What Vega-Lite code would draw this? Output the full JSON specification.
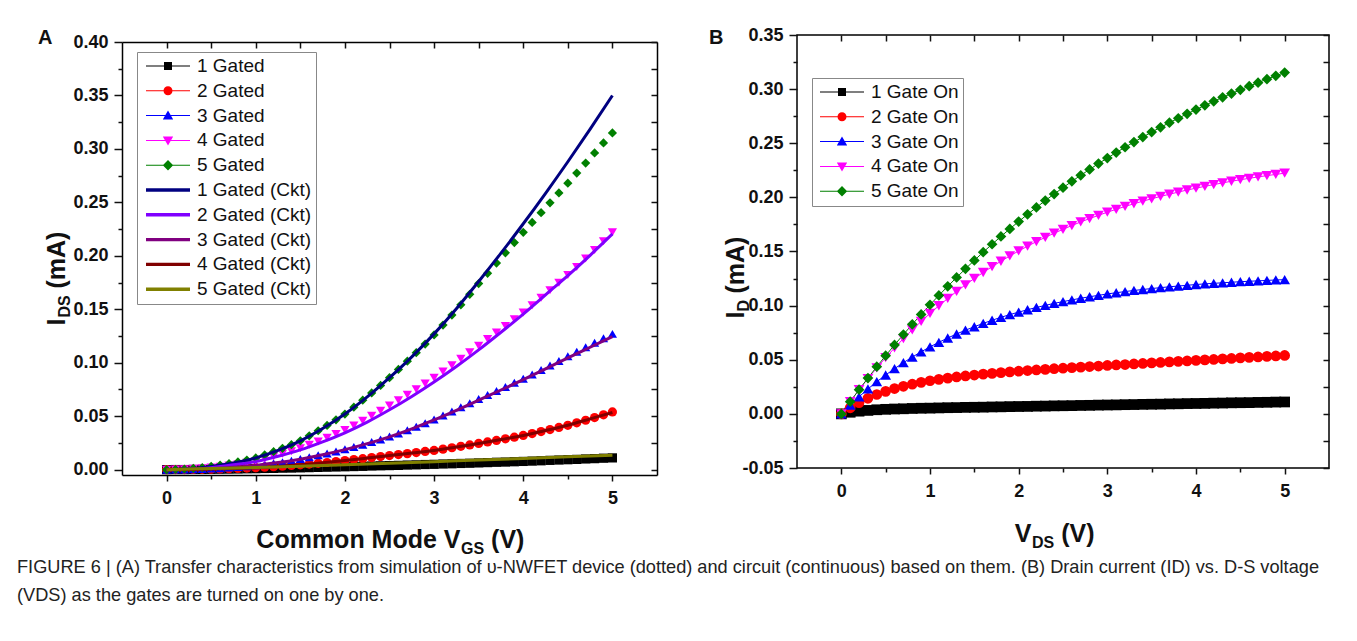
{
"$schema": "https://vega.github.io/schema/vega-lite/v6.json",
"padding": {"left": 17, "top": 25, "right": 0, "bottom": 0},
"background": "white",
"config": {
  "font": "Liberation Sans",
  "view": {"stroke": "#000", "strokeWidth": 1.5},
  "axis": {"domain": false, "grid": false, "labelFont": "Liberation Sans", "labelFontWeight": "bold", "labelFontSize": 18, "labelColor": "#111", "tickColor": "#111", "tickWidth": 1.5, "domainColor": "#000", "domainWidth": 1.5, "labelFlush": false, "labelOverlap": false, "labelBound": false, "titleFont": "Liberation Sans", "titleFontWeight": "bold", "titleFontSize": 25, "titleColor": "#111", "titleBaseline": "alphabetic", "titlePadding": 0},
  "legend": {"title": null, "symbolSize": 400, "symbolStrokeWidth": 0, "symbolOpacity": 1, "labelFont": "Liberation Sans", "labelFontSize": 19, "labelColor": "#111", "labelLimit": 400, "rowPadding": 4.8, "padding": 4, "strokeColor": "#888", "fillColor": "#fff"}
},
"title": {"text": ["FIGURE 6 | (A) Transfer characteristics from simulation of υ-NWFET device (dotted) and circuit (continuous) based on them. (B) Drain current (ID) vs. D-S voltage", "(VDS) as the gates are turned on one by one."], "orient": "bottom", "anchor": "start", "frame": "bounds", "baseline": "top", "offset": 3, "dx": -21, "font": "Liberation Sans", "fontSize": 18.2, "fontWeight": "normal", "color": "#222", "lineHeight": 28},
"spacing": 50,
"datasets": {
"apts": [
{"s":"1 Gated","v":0,"i":0},{"s":"1 Gated","v":0.1,"i":0.0001},{"s":"1 Gated","v":0.2,"i":0.0001},{"s":"1 Gated","v":0.3,"i":0.0002},{"s":"1 Gated","v":0.4,"i":0.0002},{"s":"1 Gated","v":0.5,"i":0.0003},{"s":"1 Gated","v":0.6,"i":0.0004},{"s":"1 Gated","v":0.7,"i":0.0005},{"s":"1 Gated","v":0.8,"i":0.0006},{"s":"1 Gated","v":0.9,"i":0.0008},{"s":"1 Gated","v":1,"i":0.0009},
{"s":"1 Gated","v":1.1,"i":0.0011},{"s":"1 Gated","v":1.2,"i":0.0012},{"s":"1 Gated","v":1.3,"i":0.0014},{"s":"1 Gated","v":1.4,"i":0.0015},{"s":"1 Gated","v":1.5,"i":0.0017},{"s":"1 Gated","v":1.6,"i":0.0019},{"s":"1 Gated","v":1.7,"i":0.0021},{"s":"1 Gated","v":1.8,"i":0.0023},{"s":"1 Gated","v":1.9,"i":0.0025},{"s":"1 Gated","v":2,"i":0.0027},
{"s":"1 Gated","v":2.1,"i":0.0029},{"s":"1 Gated","v":2.2,"i":0.0031},{"s":"1 Gated","v":2.3,"i":0.0034},{"s":"1 Gated","v":2.4,"i":0.0036},{"s":"1 Gated","v":2.5,"i":0.0038},{"s":"1 Gated","v":2.6,"i":0.004},{"s":"1 Gated","v":2.7,"i":0.0043},{"s":"1 Gated","v":2.8,"i":0.0045},{"s":"1 Gated","v":2.9,"i":0.0048},{"s":"1 Gated","v":3,"i":0.005},
{"s":"1 Gated","v":3.1,"i":0.0053},{"s":"1 Gated","v":3.2,"i":0.0055},{"s":"1 Gated","v":3.3,"i":0.0058},{"s":"1 Gated","v":3.4,"i":0.006},{"s":"1 Gated","v":3.5,"i":0.0063},{"s":"1 Gated","v":3.6,"i":0.0066},{"s":"1 Gated","v":3.7,"i":0.0069},{"s":"1 Gated","v":3.8,"i":0.0071},{"s":"1 Gated","v":3.9,"i":0.0074},{"s":"1 Gated","v":4,"i":0.0077},
{"s":"1 Gated","v":4.1,"i":0.008},{"s":"1 Gated","v":4.2,"i":0.0083},{"s":"1 Gated","v":4.3,"i":0.0087},{"s":"1 Gated","v":4.4,"i":0.009},{"s":"1 Gated","v":4.5,"i":0.0093},{"s":"1 Gated","v":4.6,"i":0.0096},{"s":"1 Gated","v":4.7,"i":0.01},{"s":"1 Gated","v":4.8,"i":0.0103},{"s":"1 Gated","v":4.9,"i":0.0107},{"s":"1 Gated","v":5,"i":0.011},
{"s":"2 Gated","v":0,"i":0},{"s":"2 Gated","v":0.1,"i":0.0001},{"s":"2 Gated","v":0.2,"i":0.0001},{"s":"2 Gated","v":0.3,"i":0.0002},{"s":"2 Gated","v":0.4,"i":0.0003},{"s":"2 Gated","v":0.5,"i":0.0005},{"s":"2 Gated","v":0.6,"i":0.0007},{"s":"2 Gated","v":0.7,"i":0.0009},{"s":"2 Gated","v":0.8,"i":0.0012},{"s":"2 Gated","v":0.9,"i":0.0015},{"s":"2 Gated","v":1,"i":0.0018},
{"s":"2 Gated","v":1.1,"i":0.0023},{"s":"2 Gated","v":1.2,"i":0.0028},{"s":"2 Gated","v":1.3,"i":0.0033},{"s":"2 Gated","v":1.4,"i":0.0039},{"s":"2 Gated","v":1.5,"i":0.0045},{"s":"2 Gated","v":1.6,"i":0.0052},{"s":"2 Gated","v":1.7,"i":0.0059},{"s":"2 Gated","v":1.8,"i":0.0067},{"s":"2 Gated","v":1.9,"i":0.0076},{"s":"2 Gated","v":2,"i":0.0085},
{"s":"2 Gated","v":2.1,"i":0.0094},{"s":"2 Gated","v":2.2,"i":0.0103},{"s":"2 Gated","v":2.3,"i":0.0113},{"s":"2 Gated","v":2.4,"i":0.0122},{"s":"2 Gated","v":2.5,"i":0.0132},{"s":"2 Gated","v":2.6,"i":0.0141},{"s":"2 Gated","v":2.7,"i":0.015},{"s":"2 Gated","v":2.8,"i":0.016},{"s":"2 Gated","v":2.9,"i":0.017},{"s":"2 Gated","v":3,"i":0.018},
{"s":"2 Gated","v":3.1,"i":0.0192},{"s":"2 Gated","v":3.2,"i":0.0205},{"s":"2 Gated","v":3.3,"i":0.0218},{"s":"2 Gated","v":3.4,"i":0.0231},{"s":"2 Gated","v":3.5,"i":0.0245},{"s":"2 Gated","v":3.6,"i":0.0259},{"s":"2 Gated","v":3.7,"i":0.0273},{"s":"2 Gated","v":3.8,"i":0.0288},{"s":"2 Gated","v":3.9,"i":0.0304},{"s":"2 Gated","v":4,"i":0.032},
{"s":"2 Gated","v":4.1,"i":0.0338},{"s":"2 Gated","v":4.2,"i":0.0356},{"s":"2 Gated","v":4.3,"i":0.0375},{"s":"2 Gated","v":4.4,"i":0.0395},{"s":"2 Gated","v":4.5,"i":0.0415},{"s":"2 Gated","v":4.6,"i":0.0438},{"s":"2 Gated","v":4.7,"i":0.0462},{"s":"2 Gated","v":4.8,"i":0.0487},{"s":"2 Gated","v":4.9,"i":0.0513},{"s":"2 Gated","v":5,"i":0.054},
{"s":"3 Gated","v":0,"i":0},{"s":"3 Gated","v":0.1,"i":0.0001},{"s":"3 Gated","v":0.2,"i":0.0002},{"s":"3 Gated","v":0.3,"i":0.0004},{"s":"3 Gated","v":0.4,"i":0.0007},{"s":"3 Gated","v":0.5,"i":0.001},{"s":"3 Gated","v":0.6,"i":0.0014},{"s":"3 Gated","v":0.7,"i":0.0019},{"s":"3 Gated","v":0.8,"i":0.0025},{"s":"3 Gated","v":0.9,"i":0.0032},{"s":"3 Gated","v":1,"i":0.004},
{"s":"3 Gated","v":1.1,"i":0.0049},{"s":"3 Gated","v":1.2,"i":0.0059},{"s":"3 Gated","v":1.3,"i":0.007},{"s":"3 Gated","v":1.4,"i":0.0084},{"s":"3 Gated","v":1.5,"i":0.01},{"s":"3 Gated","v":1.6,"i":0.0117},{"s":"3 Gated","v":1.7,"i":0.0134},{"s":"3 Gated","v":1.8,"i":0.0151},{"s":"3 Gated","v":1.9,"i":0.017},{"s":"3 Gated","v":2,"i":0.019},
{"s":"3 Gated","v":2.1,"i":0.0212},{"s":"3 Gated","v":2.2,"i":0.0234},{"s":"3 Gated","v":2.3,"i":0.0258},{"s":"3 Gated","v":2.4,"i":0.0283},{"s":"3 Gated","v":2.5,"i":0.031},{"s":"3 Gated","v":2.6,"i":0.0339},{"s":"3 Gated","v":2.7,"i":0.0369},{"s":"3 Gated","v":2.8,"i":0.0401},{"s":"3 Gated","v":2.9,"i":0.0435},{"s":"3 Gated","v":3,"i":0.047},
{"s":"3 Gated","v":3.1,"i":0.0507},{"s":"3 Gated","v":3.2,"i":0.0545},{"s":"3 Gated","v":3.3,"i":0.0583},{"s":"3 Gated","v":3.4,"i":0.0621},{"s":"3 Gated","v":3.5,"i":0.066},{"s":"3 Gated","v":3.6,"i":0.0698},{"s":"3 Gated","v":3.7,"i":0.0736},{"s":"3 Gated","v":3.8,"i":0.0774},{"s":"3 Gated","v":3.9,"i":0.0812},{"s":"3 Gated","v":4,"i":0.085},
{"s":"3 Gated","v":4.1,"i":0.0891},{"s":"3 Gated","v":4.2,"i":0.0932},{"s":"3 Gated","v":4.3,"i":0.0974},{"s":"3 Gated","v":4.4,"i":0.1017},{"s":"3 Gated","v":4.5,"i":0.106},{"s":"3 Gated","v":4.6,"i":0.1102},{"s":"3 Gated","v":4.7,"i":0.1144},{"s":"3 Gated","v":4.8,"i":0.1186},{"s":"3 Gated","v":4.9,"i":0.1228},{"s":"3 Gated","v":5,"i":0.127},
{"s":"4 Gated","v":0,"i":0},{"s":"4 Gated","v":0.1,"i":0.0001},{"s":"4 Gated","v":0.2,"i":0.0004},{"s":"4 Gated","v":0.3,"i":0.0008},{"s":"4 Gated","v":0.4,"i":0.0014},{"s":"4 Gated","v":0.5,"i":0.002},{"s":"4 Gated","v":0.6,"i":0.0028},{"s":"4 Gated","v":0.7,"i":0.0038},{"s":"4 Gated","v":0.8,"i":0.005},{"s":"4 Gated","v":0.9,"i":0.0064},{"s":"4 Gated","v":1,"i":0.008},
{"s":"4 Gated","v":1.1,"i":0.0102},{"s":"4 Gated","v":1.2,"i":0.0124},{"s":"4 Gated","v":1.3,"i":0.0148},{"s":"4 Gated","v":1.4,"i":0.0173},{"s":"4 Gated","v":1.5,"i":0.02},{"s":"4 Gated","v":1.6,"i":0.0232},{"s":"4 Gated","v":1.7,"i":0.0264},{"s":"4 Gated","v":1.8,"i":0.0298},{"s":"4 Gated","v":1.9,"i":0.0333},{"s":"4 Gated","v":2,"i":0.037},
{"s":"4 Gated","v":2.1,"i":0.0414},{"s":"4 Gated","v":2.2,"i":0.0458},{"s":"4 Gated","v":2.3,"i":0.0504},{"s":"4 Gated","v":2.4,"i":0.0551},{"s":"4 Gated","v":2.5,"i":0.06},{"s":"4 Gated","v":2.6,"i":0.065},{"s":"4 Gated","v":2.7,"i":0.0701},{"s":"4 Gated","v":2.8,"i":0.0753},{"s":"4 Gated","v":2.9,"i":0.0806},{"s":"4 Gated","v":3,"i":0.086},
{"s":"4 Gated","v":3.1,"i":0.0918},{"s":"4 Gated","v":3.2,"i":0.0977},{"s":"4 Gated","v":3.3,"i":0.1037},{"s":"4 Gated","v":3.4,"i":0.1098},{"s":"4 Gated","v":3.5,"i":0.116},{"s":"4 Gated","v":3.6,"i":0.1221},{"s":"4 Gated","v":3.7,"i":0.1282},{"s":"4 Gated","v":3.8,"i":0.1344},{"s":"4 Gated","v":3.9,"i":0.1407},{"s":"4 Gated","v":4,"i":0.147},
{"s":"4 Gated","v":4.1,"i":0.1538},{"s":"4 Gated","v":4.2,"i":0.1607},{"s":"4 Gated","v":4.3,"i":0.1677},{"s":"4 Gated","v":4.4,"i":0.1748},{"s":"4 Gated","v":4.5,"i":0.182},{"s":"4 Gated","v":4.6,"i":0.1896},{"s":"4 Gated","v":4.7,"i":0.1974},{"s":"4 Gated","v":4.8,"i":0.2054},{"s":"4 Gated","v":4.9,"i":0.2136},{"s":"4 Gated","v":5,"i":0.222},
{"s":"5 Gated","v":0,"i":0},{"s":"5 Gated","v":0.1,"i":0.0002},{"s":"5 Gated","v":0.2,"i":0.0006},{"s":"5 Gated","v":0.3,"i":0.0012},{"s":"5 Gated","v":0.4,"i":0.002},{"s":"5 Gated","v":0.5,"i":0.003},{"s":"5 Gated","v":0.6,"i":0.0042},{"s":"5 Gated","v":0.7,"i":0.0056},{"s":"5 Gated","v":0.8,"i":0.0072},{"s":"5 Gated","v":0.9,"i":0.009},{"s":"5 Gated","v":1,"i":0.011},
{"s":"5 Gated","v":1.1,"i":0.0138},{"s":"5 Gated","v":1.2,"i":0.0168},{"s":"5 Gated","v":1.3,"i":0.02},{"s":"5 Gated","v":1.4,"i":0.0234},{"s":"5 Gated","v":1.5,"i":0.027},{"s":"5 Gated","v":1.6,"i":0.0316},{"s":"5 Gated","v":1.7,"i":0.0364},{"s":"5 Gated","v":1.8,"i":0.0414},{"s":"5 Gated","v":1.9,"i":0.0466},{"s":"5 Gated","v":2,"i":0.052},
{"s":"5 Gated","v":2.1,"i":0.0584},{"s":"5 Gated","v":2.2,"i":0.065},{"s":"5 Gated","v":2.3,"i":0.0718},{"s":"5 Gated","v":2.4,"i":0.0788},{"s":"5 Gated","v":2.5,"i":0.086},{"s":"5 Gated","v":2.6,"i":0.0937},{"s":"5 Gated","v":2.7,"i":0.1015},{"s":"5 Gated","v":2.8,"i":0.1094},{"s":"5 Gated","v":2.9,"i":0.1175},{"s":"5 Gated","v":3,"i":0.126},
{"s":"5 Gated","v":3.1,"i":0.1352},{"s":"5 Gated","v":3.2,"i":0.1446},{"s":"5 Gated","v":3.3,"i":0.1542},{"s":"5 Gated","v":3.4,"i":0.164},{"s":"5 Gated","v":3.5,"i":0.174},{"s":"5 Gated","v":3.6,"i":0.1836},{"s":"5 Gated","v":3.7,"i":0.1932},{"s":"5 Gated","v":3.8,"i":0.2028},{"s":"5 Gated","v":3.9,"i":0.2124},{"s":"5 Gated","v":4,"i":0.222},
{"s":"5 Gated","v":4.1,"i":0.2312},{"s":"5 Gated","v":4.2,"i":0.2404},{"s":"5 Gated","v":4.3,"i":0.2496},{"s":"5 Gated","v":4.4,"i":0.2588},{"s":"5 Gated","v":4.5,"i":0.268},{"s":"5 Gated","v":4.6,"i":0.2774},{"s":"5 Gated","v":4.7,"i":0.2868},{"s":"5 Gated","v":4.8,"i":0.2962},{"s":"5 Gated","v":4.9,"i":0.3056},{"s":"5 Gated","v":5,"i":0.315}
],
"ackt": [
{"s":"1 Gated (Ckt)","v":0,"i":0},{"s":"1 Gated (Ckt)","v":0.25,"i":0.0008},{"s":"1 Gated (Ckt)","v":0.5,"i":0.003},{"s":"1 Gated (Ckt)","v":0.75,"i":0.0063},{"s":"1 Gated (Ckt)","v":1,"i":0.011},{"s":"1 Gated (Ckt)","v":1.25,"i":0.018},{"s":"1 Gated (Ckt)","v":1.5,"i":0.027},{"s":"1 Gated (Ckt)","v":1.75,"i":0.0385},{"s":"1 Gated (Ckt)","v":2,"i":0.052},{"s":"1 Gated (Ckt)","v":2.25,"i":0.068},{"s":"1 Gated (Ckt)","v":2.5,"i":0.086},{"s":"1 Gated (Ckt)","v":2.75,"i":0.1055},{"s":"1 Gated (Ckt)","v":3,"i":0.127},{"s":"1 Gated (Ckt)","v":3.25,"i":0.1505},{"s":"1 Gated (Ckt)","v":3.5,"i":0.176},{"s":"1 Gated (Ckt)","v":3.75,"i":0.2025},{"s":"1 Gated (Ckt)","v":4,"i":0.23},{"s":"1 Gated (Ckt)","v":4.25,"i":0.2585},{"s":"1 Gated (Ckt)","v":4.5,"i":0.288},{"s":"1 Gated (Ckt)","v":4.75,"i":0.3185},{"s":"1 Gated (Ckt)","v":5,"i":0.35},
{"s":"2 Gated (Ckt)","v":0,"i":0},{"s":"2 Gated (Ckt)","v":0.25,"i":0.0004},{"s":"2 Gated (Ckt)","v":0.5,"i":0.0018},{"s":"2 Gated (Ckt)","v":0.75,"i":0.0045},{"s":"2 Gated (Ckt)","v":1,"i":0.0075},{"s":"2 Gated (Ckt)","v":1.25,"i":0.0125},{"s":"2 Gated (Ckt)","v":1.5,"i":0.0185},{"s":"2 Gated (Ckt)","v":1.75,"i":0.026},{"s":"2 Gated (Ckt)","v":2,"i":0.0345},{"s":"2 Gated (Ckt)","v":2.25,"i":0.0445},{"s":"2 Gated (Ckt)","v":2.5,"i":0.056},{"s":"2 Gated (Ckt)","v":2.75,"i":0.0685},{"s":"2 Gated (Ckt)","v":3,"i":0.082},{"s":"2 Gated (Ckt)","v":3.25,"i":0.0965},{"s":"2 Gated (Ckt)","v":3.5,"i":0.112},{"s":"2 Gated (Ckt)","v":3.75,"i":0.1285},{"s":"2 Gated (Ckt)","v":4,"i":0.1455},{"s":"2 Gated (Ckt)","v":4.25,"i":0.1635},{"s":"2 Gated (Ckt)","v":4.5,"i":0.1815},{"s":"2 Gated (Ckt)","v":4.75,"i":0.2005},{"s":"2 Gated (Ckt)","v":5,"i":0.2205},
{"s":"3 Gated (Ckt)","v":0,"i":0},{"s":"3 Gated (Ckt)","v":0.25,"i":0.0003},{"s":"3 Gated (Ckt)","v":0.5,"i":0.001},{"s":"3 Gated (Ckt)","v":0.75,"i":0.0022},{"s":"3 Gated (Ckt)","v":1,"i":0.004},{"s":"3 Gated (Ckt)","v":1.25,"i":0.0066},{"s":"3 Gated (Ckt)","v":1.5,"i":0.0098},{"s":"3 Gated (Ckt)","v":1.75,"i":0.0139},{"s":"3 Gated (Ckt)","v":2,"i":0.0187},{"s":"3 Gated (Ckt)","v":2.25,"i":0.0243},{"s":"3 Gated (Ckt)","v":2.5,"i":0.0307},{"s":"3 Gated (Ckt)","v":2.75,"i":0.0382},{"s":"3 Gated (Ckt)","v":3,"i":0.0465},{"s":"3 Gated (Ckt)","v":3.25,"i":0.0555},{"s":"3 Gated (Ckt)","v":3.5,"i":0.065},{"s":"3 Gated (Ckt)","v":3.75,"i":0.0745},{"s":"3 Gated (Ckt)","v":4,"i":0.0842},{"s":"3 Gated (Ckt)","v":4.25,"i":0.0942},{"s":"3 Gated (Ckt)","v":4.5,"i":0.1045},{"s":"3 Gated (Ckt)","v":4.75,"i":0.1145},{"s":"3 Gated (Ckt)","v":5,"i":0.1245},
{"s":"4 Gated (Ckt)","v":0,"i":0},{"s":"4 Gated (Ckt)","v":0.25,"i":0.0002},{"s":"4 Gated (Ckt)","v":0.5,"i":0.0005},{"s":"4 Gated (Ckt)","v":0.75,"i":0.001},{"s":"4 Gated (Ckt)","v":1,"i":0.0018},{"s":"4 Gated (Ckt)","v":1.25,"i":0.003},{"s":"4 Gated (Ckt)","v":1.5,"i":0.0045},{"s":"4 Gated (Ckt)","v":1.75,"i":0.0064},{"s":"4 Gated (Ckt)","v":2,"i":0.0085},{"s":"4 Gated (Ckt)","v":2.25,"i":0.0108},{"s":"4 Gated (Ckt)","v":2.5,"i":0.0132},{"s":"4 Gated (Ckt)","v":2.75,"i":0.0156},{"s":"4 Gated (Ckt)","v":3,"i":0.018},{"s":"4 Gated (Ckt)","v":3.25,"i":0.0212},{"s":"4 Gated (Ckt)","v":3.5,"i":0.0245},{"s":"4 Gated (Ckt)","v":3.75,"i":0.0282},{"s":"4 Gated (Ckt)","v":4,"i":0.032},{"s":"4 Gated (Ckt)","v":4.25,"i":0.0366},{"s":"4 Gated (Ckt)","v":4.5,"i":0.0415},{"s":"4 Gated (Ckt)","v":4.75,"i":0.0475},{"s":"4 Gated (Ckt)","v":5,"i":0.0535},
{"s":"5 Gated (Ckt)","v":0,"i":0},{"s":"5 Gated (Ckt)","v":0.5,"i":0.001},{"s":"5 Gated (Ckt)","v":1,"i":0.002},{"s":"5 Gated (Ckt)","v":1.5,"i":0.0032},{"s":"5 Gated (Ckt)","v":2,"i":0.0045},{"s":"5 Gated (Ckt)","v":2.5,"i":0.006},{"s":"5 Gated (Ckt)","v":3,"i":0.0075},{"s":"5 Gated (Ckt)","v":3.5,"i":0.009},{"s":"5 Gated (Ckt)","v":4,"i":0.0105},{"s":"5 Gated (Ckt)","v":4.5,"i":0.012},{"s":"5 Gated (Ckt)","v":5,"i":0.0135}
],
"bpts": [
{"s":"1 Gate On","v":0,"i":0},{"s":"1 Gate On","v":0.1,"i":0.0015},{"s":"1 Gate On","v":0.2,"i":0.0025},{"s":"1 Gate On","v":0.3,"i":0.0032},{"s":"1 Gate On","v":0.4,"i":0.0038},{"s":"1 Gate On","v":0.5,"i":0.0042},{"s":"1 Gate On","v":0.6,"i":0.0045},{"s":"1 Gate On","v":0.7,"i":0.0047},{"s":"1 Gate On","v":0.8,"i":0.005},{"s":"1 Gate On","v":0.9,"i":0.0052},{"s":"1 Gate On","v":1,"i":0.0053},
{"s":"1 Gate On","v":1.1,"i":0.0055},{"s":"1 Gate On","v":1.2,"i":0.0057},{"s":"1 Gate On","v":1.3,"i":0.0058},{"s":"1 Gate On","v":1.4,"i":0.006},{"s":"1 Gate On","v":1.5,"i":0.0061},{"s":"1 Gate On","v":1.6,"i":0.0062},{"s":"1 Gate On","v":1.7,"i":0.0064},{"s":"1 Gate On","v":1.8,"i":0.0065},{"s":"1 Gate On","v":1.9,"i":0.0067},{"s":"1 Gate On","v":2,"i":0.0068},
{"s":"1 Gate On","v":2.1,"i":0.0069},{"s":"1 Gate On","v":2.2,"i":0.0071},{"s":"1 Gate On","v":2.3,"i":0.0072},{"s":"1 Gate On","v":2.4,"i":0.0074},{"s":"1 Gate On","v":2.5,"i":0.0075},{"s":"1 Gate On","v":2.6,"i":0.0076},{"s":"1 Gate On","v":2.7,"i":0.0078},{"s":"1 Gate On","v":2.8,"i":0.0079},{"s":"1 Gate On","v":2.9,"i":0.0081},{"s":"1 Gate On","v":3,"i":0.0082},
{"s":"1 Gate On","v":3.1,"i":0.0083},{"s":"1 Gate On","v":3.2,"i":0.0085},{"s":"1 Gate On","v":3.3,"i":0.0086},{"s":"1 Gate On","v":3.4,"i":0.0088},{"s":"1 Gate On","v":3.5,"i":0.0089},{"s":"1 Gate On","v":3.6,"i":0.009},{"s":"1 Gate On","v":3.7,"i":0.0092},{"s":"1 Gate On","v":3.8,"i":0.0093},{"s":"1 Gate On","v":3.9,"i":0.0095},{"s":"1 Gate On","v":4,"i":0.0096},
{"s":"1 Gate On","v":4.1,"i":0.0097},{"s":"1 Gate On","v":4.2,"i":0.0099},{"s":"1 Gate On","v":4.3,"i":0.01},{"s":"1 Gate On","v":4.4,"i":0.0102},{"s":"1 Gate On","v":4.5,"i":0.0103},{"s":"1 Gate On","v":4.6,"i":0.0104},{"s":"1 Gate On","v":4.7,"i":0.0106},{"s":"1 Gate On","v":4.8,"i":0.0107},{"s":"1 Gate On","v":4.9,"i":0.0109},{"s":"1 Gate On","v":5,"i":0.011},
{"s":"2 Gate On","v":0,"i":0},{"s":"2 Gate On","v":0.1,"i":0.0056},{"s":"2 Gate On","v":0.2,"i":0.0104},{"s":"2 Gate On","v":0.3,"i":0.0144},{"s":"2 Gate On","v":0.4,"i":0.0179},{"s":"2 Gate On","v":0.5,"i":0.0208},{"s":"2 Gate On","v":0.6,"i":0.0234},{"s":"2 Gate On","v":0.7,"i":0.0255},{"s":"2 Gate On","v":0.8,"i":0.0274},{"s":"2 Gate On","v":0.9,"i":0.0291},{"s":"2 Gate On","v":1,"i":0.0306},
{"s":"2 Gate On","v":1.1,"i":0.0319},{"s":"2 Gate On","v":1.2,"i":0.033},{"s":"2 Gate On","v":1.3,"i":0.0341},{"s":"2 Gate On","v":1.4,"i":0.035},{"s":"2 Gate On","v":1.5,"i":0.0359},{"s":"2 Gate On","v":1.6,"i":0.0367},{"s":"2 Gate On","v":1.7,"i":0.0374},{"s":"2 Gate On","v":1.8,"i":0.0381},{"s":"2 Gate On","v":1.9,"i":0.0388},{"s":"2 Gate On","v":2,"i":0.0394},
{"s":"2 Gate On","v":2.1,"i":0.04},{"s":"2 Gate On","v":2.2,"i":0.0406},{"s":"2 Gate On","v":2.3,"i":0.0411},{"s":"2 Gate On","v":2.4,"i":0.0417},{"s":"2 Gate On","v":2.5,"i":0.0422},{"s":"2 Gate On","v":2.6,"i":0.0427},{"s":"2 Gate On","v":2.7,"i":0.0432},{"s":"2 Gate On","v":2.8,"i":0.0437},{"s":"2 Gate On","v":2.9,"i":0.0442},{"s":"2 Gate On","v":3,"i":0.0447},
{"s":"2 Gate On","v":3.1,"i":0.0452},{"s":"2 Gate On","v":3.2,"i":0.0456},{"s":"2 Gate On","v":3.3,"i":0.0461},{"s":"2 Gate On","v":3.4,"i":0.0466},{"s":"2 Gate On","v":3.5,"i":0.0471},{"s":"2 Gate On","v":3.6,"i":0.0475},{"s":"2 Gate On","v":3.7,"i":0.048},{"s":"2 Gate On","v":3.8,"i":0.0485},{"s":"2 Gate On","v":3.9,"i":0.0489},{"s":"2 Gate On","v":4,"i":0.0494},
{"s":"2 Gate On","v":4.1,"i":0.0499},{"s":"2 Gate On","v":4.2,"i":0.0503},{"s":"2 Gate On","v":4.3,"i":0.0508},{"s":"2 Gate On","v":4.4,"i":0.0512},{"s":"2 Gate On","v":4.5,"i":0.0517},{"s":"2 Gate On","v":4.6,"i":0.0522},{"s":"2 Gate On","v":4.7,"i":0.0526},{"s":"2 Gate On","v":4.8,"i":0.0531},{"s":"2 Gate On","v":4.9,"i":0.0535},{"s":"2 Gate On","v":5,"i":0.054},
{"s":"3 Gate On","v":0,"i":0},{"s":"3 Gate On","v":0.1,"i":0.0082},{"s":"3 Gate On","v":0.2,"i":0.0158},{"s":"3 Gate On","v":0.3,"i":0.023},{"s":"3 Gate On","v":0.4,"i":0.0297},{"s":"3 Gate On","v":0.5,"i":0.0359},{"s":"3 Gate On","v":0.6,"i":0.0418},{"s":"3 Gate On","v":0.7,"i":0.0473},{"s":"3 Gate On","v":0.8,"i":0.0525},{"s":"3 Gate On","v":0.9,"i":0.0573},{"s":"3 Gate On","v":1,"i":0.0619},
{"s":"3 Gate On","v":1.1,"i":0.0661},{"s":"3 Gate On","v":1.2,"i":0.0701},{"s":"3 Gate On","v":1.3,"i":0.0738},{"s":"3 Gate On","v":1.4,"i":0.0773},{"s":"3 Gate On","v":1.5,"i":0.0805},{"s":"3 Gate On","v":1.6,"i":0.0836},{"s":"3 Gate On","v":1.7,"i":0.0865},{"s":"3 Gate On","v":1.8,"i":0.0892},{"s":"3 Gate On","v":1.9,"i":0.0917},{"s":"3 Gate On","v":2,"i":0.094},
{"s":"3 Gate On","v":2.1,"i":0.0962},{"s":"3 Gate On","v":2.2,"i":0.0983},{"s":"3 Gate On","v":2.3,"i":0.1002},{"s":"3 Gate On","v":2.4,"i":0.1021},{"s":"3 Gate On","v":2.5,"i":0.1037},{"s":"3 Gate On","v":2.6,"i":0.1053},{"s":"3 Gate On","v":2.7,"i":0.1068},{"s":"3 Gate On","v":2.8,"i":0.1082},{"s":"3 Gate On","v":2.9,"i":0.1095},{"s":"3 Gate On","v":3,"i":0.1108},
{"s":"3 Gate On","v":3.1,"i":0.1119},{"s":"3 Gate On","v":3.2,"i":0.113},{"s":"3 Gate On","v":3.3,"i":0.114},{"s":"3 Gate On","v":3.4,"i":0.1149},{"s":"3 Gate On","v":3.5,"i":0.1158},{"s":"3 Gate On","v":3.6,"i":0.1166},{"s":"3 Gate On","v":3.7,"i":0.1174},{"s":"3 Gate On","v":3.8,"i":0.1181},{"s":"3 Gate On","v":3.9,"i":0.1188},{"s":"3 Gate On","v":4,"i":0.1195},
{"s":"3 Gate On","v":4.1,"i":0.1201},{"s":"3 Gate On","v":4.2,"i":0.1206},{"s":"3 Gate On","v":4.3,"i":0.1211},{"s":"3 Gate On","v":4.4,"i":0.1216},{"s":"3 Gate On","v":4.5,"i":0.1221},{"s":"3 Gate On","v":4.6,"i":0.1225},{"s":"3 Gate On","v":4.7,"i":0.1229},{"s":"3 Gate On","v":4.8,"i":0.1233},{"s":"3 Gate On","v":4.9,"i":0.1237},{"s":"3 Gate On","v":5,"i":0.124},
{"s":"4 Gate On","v":0,"i":0},{"s":"4 Gate On","v":0.1,"i":0.0114},{"s":"4 Gate On","v":0.2,"i":0.0223},{"s":"4 Gate On","v":0.3,"i":0.0326},{"s":"4 Gate On","v":0.4,"i":0.0425},{"s":"4 Gate On","v":0.5,"i":0.0519},{"s":"4 Gate On","v":0.6,"i":0.0609},{"s":"4 Gate On","v":0.7,"i":0.0695},{"s":"4 Gate On","v":0.8,"i":0.0776},{"s":"4 Gate On","v":0.9,"i":0.0854},{"s":"4 Gate On","v":1,"i":0.0928},
{"s":"4 Gate On","v":1.1,"i":0.0999},{"s":"4 Gate On","v":1.2,"i":0.1066},{"s":"4 Gate On","v":1.3,"i":0.1131},{"s":"4 Gate On","v":1.4,"i":0.1192},{"s":"4 Gate On","v":1.5,"i":0.1251},{"s":"4 Gate On","v":1.6,"i":0.1306},{"s":"4 Gate On","v":1.7,"i":0.136},{"s":"4 Gate On","v":1.8,"i":0.141},{"s":"4 Gate On","v":1.9,"i":0.1459},{"s":"4 Gate On","v":2,"i":0.1505},
{"s":"4 Gate On","v":2.1,"i":0.1549},{"s":"4 Gate On","v":2.2,"i":0.1591},{"s":"4 Gate On","v":2.3,"i":0.1631},{"s":"4 Gate On","v":2.4,"i":0.1669},{"s":"4 Gate On","v":2.5,"i":0.1705},{"s":"4 Gate On","v":2.6,"i":0.174},{"s":"4 Gate On","v":2.7,"i":0.1773},{"s":"4 Gate On","v":2.8,"i":0.1804},{"s":"4 Gate On","v":2.9,"i":0.1834},{"s":"4 Gate On","v":3,"i":0.1863},
{"s":"4 Gate On","v":3.1,"i":0.189},{"s":"4 Gate On","v":3.2,"i":0.1916},{"s":"4 Gate On","v":3.3,"i":0.1941},{"s":"4 Gate On","v":3.4,"i":0.1965},{"s":"4 Gate On","v":3.5,"i":0.1987},{"s":"4 Gate On","v":3.6,"i":0.2009},{"s":"4 Gate On","v":3.7,"i":0.2029},{"s":"4 Gate On","v":3.8,"i":0.2049},{"s":"4 Gate On","v":3.9,"i":0.2068},{"s":"4 Gate On","v":4,"i":0.2085},
{"s":"4 Gate On","v":4.1,"i":0.2102},{"s":"4 Gate On","v":4.2,"i":0.2118},{"s":"4 Gate On","v":4.3,"i":0.2134},{"s":"4 Gate On","v":4.4,"i":0.2149},{"s":"4 Gate On","v":4.5,"i":0.2163},{"s":"4 Gate On","v":4.6,"i":0.2176},{"s":"4 Gate On","v":4.7,"i":0.2189},{"s":"4 Gate On","v":4.8,"i":0.2201},{"s":"4 Gate On","v":4.9,"i":0.2212},{"s":"4 Gate On","v":5,"i":0.2224},
{"s":"5 Gate On","v":0,"i":0},{"s":"5 Gate On","v":0.1,"i":0.0113},{"s":"5 Gate On","v":0.2,"i":0.0224},{"s":"5 Gate On","v":0.3,"i":0.0331},{"s":"5 Gate On","v":0.4,"i":0.0436},{"s":"5 Gate On","v":0.5,"i":0.0538},{"s":"5 Gate On","v":0.6,"i":0.0637},{"s":"5 Gate On","v":0.7,"i":0.0733},{"s":"5 Gate On","v":0.8,"i":0.0827},{"s":"5 Gate On","v":0.9,"i":0.0919},{"s":"5 Gate On","v":1,"i":0.1008},
{"s":"5 Gate On","v":1.1,"i":0.1094},{"s":"5 Gate On","v":1.2,"i":0.1178},{"s":"5 Gate On","v":1.3,"i":0.126},{"s":"5 Gate On","v":1.4,"i":0.134},{"s":"5 Gate On","v":1.5,"i":0.1418},{"s":"5 Gate On","v":1.6,"i":0.1494},{"s":"5 Gate On","v":1.7,"i":0.1567},{"s":"5 Gate On","v":1.8,"i":0.1639},{"s":"5 Gate On","v":1.9,"i":0.1709},{"s":"5 Gate On","v":2,"i":0.1777},
{"s":"5 Gate On","v":2.1,"i":0.1843},{"s":"5 Gate On","v":2.2,"i":0.1907},{"s":"5 Gate On","v":2.3,"i":0.197},{"s":"5 Gate On","v":2.4,"i":0.2031},{"s":"5 Gate On","v":2.5,"i":0.209},{"s":"5 Gate On","v":2.6,"i":0.2148},{"s":"5 Gate On","v":2.7,"i":0.2204},{"s":"5 Gate On","v":2.8,"i":0.2258},{"s":"5 Gate On","v":2.9,"i":0.2312},{"s":"5 Gate On","v":3,"i":0.2363},
{"s":"5 Gate On","v":3.1,"i":0.2414},{"s":"5 Gate On","v":3.2,"i":0.2463},{"s":"5 Gate On","v":3.3,"i":0.2511},{"s":"5 Gate On","v":3.4,"i":0.2557},{"s":"5 Gate On","v":3.5,"i":0.2603},{"s":"5 Gate On","v":3.6,"i":0.2647},{"s":"5 Gate On","v":3.7,"i":0.269},{"s":"5 Gate On","v":3.8,"i":0.2731},{"s":"5 Gate On","v":3.9,"i":0.2772},{"s":"5 Gate On","v":4,"i":0.2811},
{"s":"5 Gate On","v":4.1,"i":0.285},{"s":"5 Gate On","v":4.2,"i":0.2887},{"s":"5 Gate On","v":4.3,"i":0.2924},{"s":"5 Gate On","v":4.4,"i":0.2959},{"s":"5 Gate On","v":4.5,"i":0.2994},{"s":"5 Gate On","v":4.6,"i":0.3027},{"s":"5 Gate On","v":4.7,"i":0.306},{"s":"5 Gate On","v":4.8,"i":0.3092},{"s":"5 Gate On","v":4.9,"i":0.3123},{"s":"5 Gate On","v":5,"i":0.3153}
]
},
"hconcat": [
{
  "width": 535, "height": 440,
  "view": {"stroke": null},
  "title": {"text": "A", "anchor": "start", "frame": "group", "fontSize": 20, "fontWeight": "bold", "font": "Liberation Sans", "color": "#111", "dx": -84, "offset": -31, "baseline": "alphabetic"},
  "layer": [
    {
      "data": {"name": "apts"},
      "mark": {"type": "point", "filled": true, "size": 85, "opacity": 1},
      "encoding": {
        "x": {"field": "v", "type": "quantitative", "scale": {"domain": [-0.5, 5.5], "nice": false, "zero": false},
              "axis": {"orient": "bottom", "domain": true, "values": [0, 1, 2, 3, 4, 5], "format": "d", "tickSize": 6, "labelPadding": 8, "title": "Common Mode V", "titleX": 338, "titleY": 72, "titleAlign": "right"}},
        "y": {"field": "i", "type": "quantitative", "scale": {"domain": [-0.005, 0.4], "range": [440, 7], "nice": false, "zero": false},
              "axis": {"orient": "left", "domain": true, "values": [0, 0.05, 0.1, 0.15, 0.2, 0.25, 0.3, 0.35, 0.4], "labelExpr": "replace(format(datum.value, '.2f'), '\u2212', '-')", "tickSize": 8, "labelPadding": 6, "title": "I", "titleX": -58, "titleY": 290, "titleAlign": "left", "titleAngle": -90}},
        "color": {"field": "s", "type": "nominal", "scale": {"domain": ["1 Gated", "2 Gated", "3 Gated", "4 Gated", "5 Gated"], "range": ["#000000", "#ff0000", "#0000ff", "#ff00ff", "#008000"]}, "legend": null},
        "shape": {"field": "s", "type": "nominal", "scale": {"domain": ["1 Gated", "2 Gated", "3 Gated", "4 Gated", "5 Gated"], "range": ["square", "circle", "triangle-up", "triangle-down", "diamond"]}, "legend": null}
      }
    },
    {
      "data": {"name": "ackt"},
      "mark": {"type": "line", "strokeWidth": 3, "interpolate": "monotone"},
      "encoding": {
        "x": {"field": "v", "type": "quantitative", "axis": {"orient": "bottom", "values": [0.5, 1.5, 2.5, 3.5, 4.5], "labels": false, "tickSize": 4, "title": "GS", "titleFontSize": 16, "titleX": 338.5, "titleY": 78, "titleAlign": "left"}},
        "y": {"field": "i", "type": "quantitative", "axis": {"orient": "left", "values": [0.025, 0.075, 0.125, 0.175, 0.225, 0.275, 0.325, 0.375], "labels": false, "tickSize": 4, "title": "DS", "titleFontSize": 16, "titleX": -53, "titleY": 282, "titleAlign": "left", "titleAngle": -90}},
        "color": {"field": "s", "type": "nominal", "scale": {"domain": ["1 Gated (Ckt)", "2 Gated (Ckt)", "3 Gated (Ckt)", "4 Gated (Ckt)", "5 Gated (Ckt)"], "range": ["#000080", "#8000ff", "#800080", "#800000", "#808000"]}, "legend": null}
      }
    },
    {
      "data": {"name": "ackt"},
      "mark": {"type": "point", "filled": true, "opacity": 0},
      "encoding": {
        "x": {"field": "v", "type": "quantitative", "axis": {"orient": "top", "domain": true, "offset": -7, "values": [0, 0.5, 1, 1.5, 2, 2.5, 3, 3.5, 4, 4.5, 5], "labels": false, "tickSize": -6, "title": "(V)", "titleX": 368.6, "titleY": 505, "titleAlign": "left"}},
        "y": {"field": "i", "type": "quantitative", "axis": {"orient": "right", "domain": true, "values": [0, 0.025, 0.05, 0.075, 0.1, 0.125, 0.15, 0.175, 0.2, 0.225, 0.25, 0.275, 0.3, 0.325, 0.35, 0.375, 0.4], "labels": false, "tickSize": -6, "title": "(mA)", "titleX": -593, "titleY": 253, "titleAlign": "left", "titleAngle": -90}},
        "color": {"field": "s", "type": "nominal", "scale": {"domain": ["1 Gated", "2 Gated", "3 Gated", "4 Gated", "5 Gated", "1 Gated (Ckt)", "2 Gated (Ckt)", "3 Gated (Ckt)", "4 Gated (Ckt)", "5 Gated (Ckt)"], "range": ["#000000", "#ff0000", "#0000ff", "#ff00ff", "#008000", "#000080", "#8000ff", "#800080", "#800000", "#808000"]},
                  "legend": {"orient": "none", "legendX": 15, "legendY": 17, "symbolOffset": 17, "labelOffset": 19}},
        "shape": {"field": "s", "type": "nominal", "scale": {"domain": ["1 Gated", "2 Gated", "3 Gated", "4 Gated", "5 Gated", "1 Gated (Ckt)", "2 Gated (Ckt)", "3 Gated (Ckt)", "4 Gated (Ckt)", "5 Gated (Ckt)"],
                  "range": ["M-2.2,-0.05H2.2V0.05H-2.2Z M-0.4,-0.4H0.4V0.4H-0.4Z", "M-2.2,-0.05H2.2V0.05H-2.2Z M0.45,0A0.45,0.45 0 1,1 -0.45,0A0.45,0.45 0 1,1 0.45,0Z", "M-2.2,-0.05H2.2V0.05H-2.2Z M0,-0.52L0.52,0.38L-0.52,0.38Z", "M-2.2,-0.05H2.2V0.05H-2.2Z M-0.52,-0.38L0.52,-0.38L0,0.52Z", "M-2.2,-0.05H2.2V0.05H-2.2Z M0,-0.52L0.52,0L0,0.52L-0.52,0Z", "M-2.2,-0.17H2.2V0.17H-2.2Z", "M-2.2,-0.17H2.2V0.17H-2.2Z", "M-2.2,-0.17H2.2V0.17H-2.2Z", "M-2.2,-0.17H2.2V0.17H-2.2Z", "M-2.2,-0.17H2.2V0.17H-2.2Z"]},
                  "legend": {"orient": "none", "legendX": 15, "legendY": 17, "symbolOffset": 17, "labelOffset": 19}}
      }
    }
  ],
  "resolve": {"scale": {"color": "independent", "shape": "independent"}, "axis": {"x": "independent", "y": "independent"}}
},
{
  "width": 532, "height": 433,
  "title": {"text": "B", "anchor": "start", "frame": "group", "fontSize": 20, "fontWeight": "bold", "font": "Liberation Sans", "color": "#111", "dx": -88, "offset": -38, "baseline": "alphabetic"},
  "layer": [
    {
      "data": {"name": "bpts"},
      "mark": {"type": "line", "strokeWidth": 1},
      "encoding": {
        "x": {"field": "v", "type": "quantitative", "scale": {"domain": [-0.5, 5.5], "nice": false, "zero": false},
              "axis": {"orient": "bottom", "values": [0.5, 1.5, 2.5, 3.5, 4.5], "labels": false, "tickSize": 4, "title": "DS", "titleFontSize": 16, "titleX": 234.5, "titleY": 79, "titleAlign": "left"}},
        "y": {"field": "i", "type": "quantitative", "scale": {"domain": [-0.05, 0.35], "nice": false, "zero": false},
              "axis": {"orient": "left", "values": [-0.025, 0.025, 0.075, 0.125, 0.175, 0.225, 0.275, 0.325], "labels": false, "tickSize": 4, "title": "D", "titleFontSize": 16, "titleX": -49, "titleY": 276, "titleAlign": "left", "titleAngle": -90}},
        "color": {"field": "s", "type": "nominal", "scale": {"domain": ["1 Gate On", "2 Gate On", "3 Gate On", "4 Gate On", "5 Gate On"], "range": ["#000000", "#ff0000", "#0000ff", "#ff00ff", "#008000"]}, "legend": null}
      }
    },
    {
      "data": {"name": "bpts"},
      "mark": {"type": "point", "filled": true, "size": 115, "opacity": 1},
      "encoding": {
        "x": {"field": "v", "type": "quantitative", "axis": {"orient": "bottom", "values": [0, 1, 2, 3, 4, 5], "format": "d", "tickSize": 6, "labelPadding": 8, "title": "V", "titleX": 234, "titleY": 73, "titleAlign": "right"}},
        "y": {"field": "i", "type": "quantitative", "axis": {"orient": "left", "values": [-0.05, 0, 0.05, 0.1, 0.15, 0.2, 0.25, 0.3, 0.35], "labelExpr": "replace(format(datum.value, '.2f'), '\u2212', '-')", "tickSize": 8, "labelPadding": 6, "title": "I", "titleX": -54, "titleY": 283, "titleAlign": "left", "titleAngle": -90}},
        "color": {"field": "s", "type": "nominal", "scale": {"domain": ["1 Gate On", "2 Gate On", "3 Gate On", "4 Gate On", "5 Gate On"], "range": ["#000000", "#ff0000", "#0000ff", "#ff00ff", "#008000"]}, "legend": null},
        "shape": {"field": "s", "type": "nominal", "scale": {"domain": ["1 Gate On", "2 Gate On", "3 Gate On", "4 Gate On", "5 Gate On"], "range": ["square", "circle", "triangle-up", "triangle-down", "diamond"]}, "legend": null}
      }
    },
    {
      "data": {"name": "bpts"},
      "mark": {"type": "point", "filled": true, "opacity": 0},
      "encoding": {
        "x": {"field": "v", "type": "quantitative", "axis": {"orient": "top", "values": [0, 0.5, 1, 1.5, 2, 2.5, 3, 3.5, 4, 4.5, 5], "labels": false, "tickSize": -6, "title": "(V)", "titleX": 263.7, "titleY": 506, "titleAlign": "left"}},
        "y": {"field": "i", "type": "quantitative", "axis": {"orient": "right", "values": [-0.05, -0.025, 0, 0.025, 0.05, 0.075, 0.1, 0.125, 0.15, 0.175, 0.2, 0.225, 0.25, 0.275, 0.3, 0.325, 0.35], "labels": false, "tickSize": -6, "title": "(mA)", "titleX": -586, "titleY": 258, "titleAlign": "left", "titleAngle": -90}},
        "color": {"field": "s", "type": "nominal", "scale": {"domain": ["1 Gate On", "2 Gate On", "3 Gate On", "4 Gate On", "5 Gate On"], "range": ["#000000", "#ff0000", "#0000ff", "#ff00ff", "#008000"]},
                  "legend": {"orient": "none", "legendX": 15, "legendY": 43, "symbolOffset": 16, "labelOffset": 19}},
        "shape": {"field": "s", "type": "nominal", "scale": {"domain": ["1 Gate On", "2 Gate On", "3 Gate On", "4 Gate On", "5 Gate On"],
                  "range": ["M-2.2,-0.05H2.2V0.05H-2.2Z M-0.4,-0.4H0.4V0.4H-0.4Z", "M-2.2,-0.05H2.2V0.05H-2.2Z M0.45,0A0.45,0.45 0 1,1 -0.45,0A0.45,0.45 0 1,1 0.45,0Z", "M-2.2,-0.05H2.2V0.05H-2.2Z M0,-0.52L0.52,0.38L-0.52,0.38Z", "M-2.2,-0.05H2.2V0.05H-2.2Z M-0.52,-0.38L0.52,-0.38L0,0.52Z", "M-2.2,-0.05H2.2V0.05H-2.2Z M0,-0.52L0.52,0L0,0.52L-0.52,0Z"]},
                  "legend": {"orient": "none", "legendX": 15, "legendY": 43, "symbolOffset": 16, "labelOffset": 19}}
      }
    }
  ],
  "resolve": {"scale": {"color": "independent", "shape": "independent"}, "axis": {"x": "independent", "y": "independent"}}
}
]
}
